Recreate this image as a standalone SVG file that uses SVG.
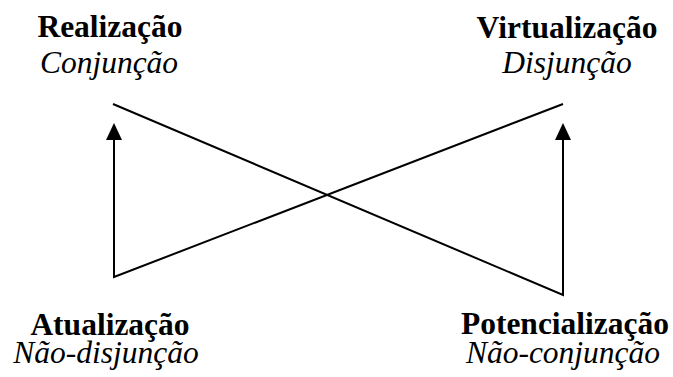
<svg xmlns="http://www.w3.org/2000/svg" width="673" height="377" viewBox="0 0 673 377">
<style>
.t{font-family:"Liberation Serif","Times New Roman",serif;font-size:31.5px;fill:#000;text-anchor:middle}
.b{font-weight:bold}
.i{font-style:italic}
.ln{stroke:#000;stroke-width:2;fill:none}
</style>
<defs>
<marker id="ah" markerWidth="15" markerHeight="16" refX="7.5" refY="0" orient="auto-start-reverse" markerUnits="userSpaceOnUse" viewBox="0 0 15 16">
<path d="M0,16 L7.5,0 L15,16 Z" fill="#000"/>
</marker>
</defs>
<g id="connectors">
<polyline class="ln" points="113,104 563,295 563,140"/>
<polygon points="555,140 563,123 571,140" fill="#000"/>
<polyline class="ln" points="563,104 114,277 114,140"/>
<polygon points="106,140 114,123 122,140" fill="#000"/>
</g>
<g id="realizacao">
<text class="t b" x="110" y="37">Realização</text>
<text class="t i" x="109" y="73">Conjunção</text>
</g>
<g id="virtualizacao">
<text class="t b" x="567" y="38">Virtualização</text>
<text class="t i" x="567" y="73">Disjunção</text>
</g>
<g id="atualizacao">
<text class="t b" x="110" y="335">Atualização</text>
<text class="t i" x="106" y="363">Não-disjunção</text>
</g>
<g id="potencializacao">
<text class="t b" x="565" y="334">Potencialização</text>
<text class="t i" x="563" y="363">Não-conjunção</text>
</g>
</svg>
